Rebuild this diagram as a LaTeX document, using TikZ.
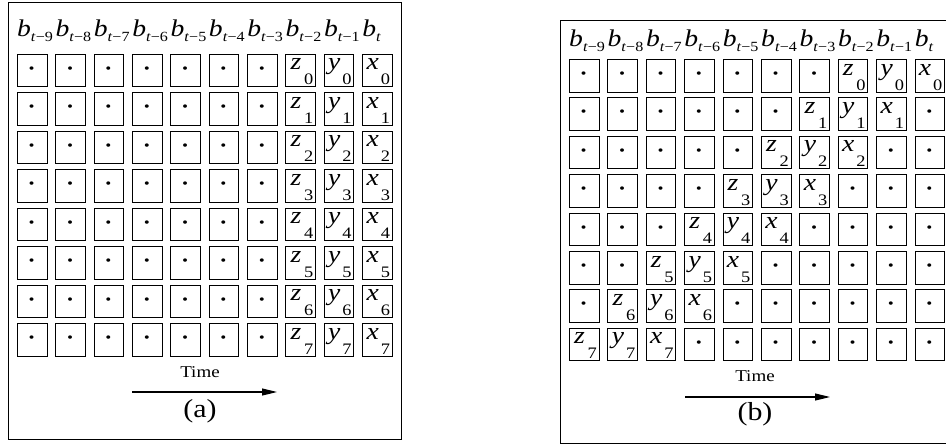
\documentclass[tikz,border=0pt]{standalone}
\usepackage{fontspec}
\setmainfont[FakeStretch=1.15]{Liberation Serif}
\usetikzlibrary{arrows.meta}
\newcommand\hdrlabel[1]{\textit{b}\raisebox{-5.5pt}{\fontsize{14}{14}\selectfont\textit{t}#1}}
\newcommand\mkcell[6]{%
  \node[cellbox] (#1#2#3) at (#4,#5) {};
  \ifnum#6<0
    \node[dotn] (#1#2#3t) at (#4+14.75,#5+21.5) {·};
  \else\ifnum#6>2
    \node[dotn] (#1#2#3t) at (#4+14.75,#5+21.5) {·};
  \else
    \node[letn] (#1#2#3t) at (#4+10.5,#5+16) {\ifcase#6 z\or y\or x\fi};
    \node[subn] (#1#2#3s) at (#4+28,#5+31) {#2};
  \fi\fi
}
\begin{document}
\begin{tikzpicture}[x=1pt,y=-1pt,
  cellbox/.style={draw, line width=0.9pt, minimum width=29.5pt, minimum height=32.5pt, inner sep=0pt, anchor=north west},
  framebox/.style={draw, line width=1.3pt},
  dotn/.style={inner sep=0pt, anchor=base, font=\fontsize{21}{21}\selectfont\bfseries},
  letn/.style={inner sep=0pt, anchor=base, font=\fontsize{24}{24}\selectfont\itshape},
  subn/.style={inner sep=0pt, anchor=base east, font=\fontsize{16}{16}\selectfont},
  hdr/.style={inner sep=0pt, anchor=base west, font=\fontsize{24}{24}\selectfont},
  timen/.style={inner sep=0pt, font=\fontsize{16.5}{16.5}\selectfont},
  capn/.style={inner sep=0pt, font=\fontsize{26}{26}\selectfont},
  timearrow/.style={line width=1.1pt, -{Triangle[length=15pt,width=7pt]}}]
\useasboundingbox (0,0) rectangle (946,445);
% panel (a)
\node[framebox, anchor=north west, minimum width=393.5pt, minimum height=437.5pt, inner sep=0pt] (framea) at (7.5,1.5) {};
\foreach \c/\s in {0/−9,1/−8,2/−7,3/−6,4/−5,5/−4,6/−3,7/−2,8/−1,9/}{
  \pgfmathsetmacro\X{17+38.35*\c}
  \node[hdr] (ha\c) at (\X,36) {\hdrlabel{\s}};
}
\foreach \r in {0,...,7}{
  \foreach \c in {0,...,9}{
    \pgfmathsetmacro\X{17+38.35*\c}
    \pgfmathsetmacro\Y{53.5+38.5*\r}
    \pgfmathtruncatemacro\k{\c-7}
    \mkcell{a}{\r}{\c}{\X}{\Y}{\k}
  }
}
\node[timen] (timea) at (200,372) {Time};
\coordinate (a0) at (132,392);
\coordinate (a1) at (277,392);
\draw[timearrow] (a0) -- (a1);
\node[capn] (capa) at (200,411) {(a)};
% panel (b)
\node[framebox, anchor=north west, minimum width=400pt, minimum height=423.5pt, inner sep=0pt] (frameb) at (559.5,19.5) {};
\foreach \c/\s in {0/−9,1/−8,2/−7,3/−6,4/−5,5/−4,6/−3,7/−2,8/−1,9/}{
  \pgfmathsetmacro\X{569+38.4*\c}
  \node[hdr] (hb\c) at (\X,46) {\hdrlabel{\s}};
}
\foreach \r in {0,...,7}{
  \foreach \c in {0,...,9}{
    \pgfmathsetmacro\X{569+38.4*\c}
    \pgfmathsetmacro\Y{59+38.4*\r}
    \pgfmathtruncatemacro\k{\c+\r-7}
    \mkcell{b}{\r}{\c}{\X}{\Y}{\k}
  }
}
\node[timen] (timeb) at (755,376) {Time};
\coordinate (b0) at (685,397);
\coordinate (b1) at (830,397);
\draw[timearrow] (b0) -- (b1);
\node[capn] (capb) at (755,414) {(b)};
\end{tikzpicture}
\end{document}
